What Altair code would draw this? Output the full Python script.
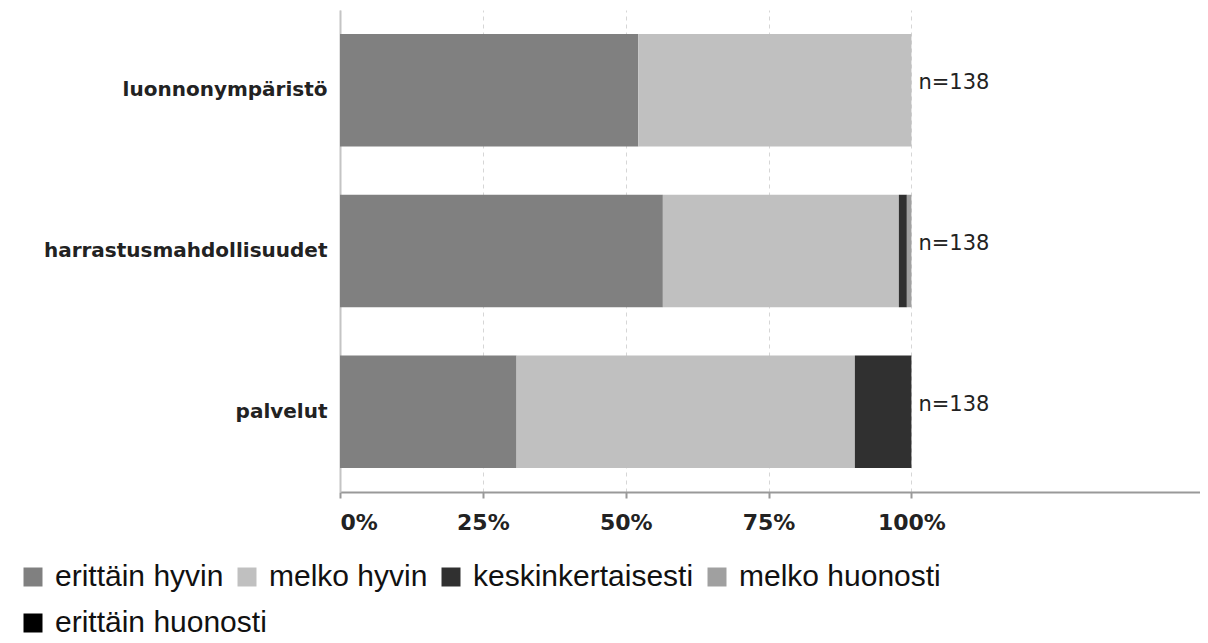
import altair as alt
import pandas as pd

categories = ["luonnonympäristö", "harrastusmahdollisuudet", "palvelut"]
answers = ["erittäin hyvin", "melko hyvin", "keskinkertaisesti", "melko huonosti", "erittäin huonosti"]
colors = ["#808080", "#c0c0c0", "#303030", "#a0a0a0", "#000000"]

# percentages per category, in the order of `answers`
luonnonymparisto = [52.2, 47.8, 0.0, 0.0, 0.0]
harrastus = [56.5, 41.3, 1.4, 0.8, 0.0]
palvelut = [30.9, 59.2, 9.9, 0.0, 0.0]
n_values = [138, 138, 138]

series = [luonnonymparisto, harrastus, palvelut]
rows = []
for cat, vals in zip(categories, series):
    for i, (a, v) in enumerate(zip(answers, vals)):
        rows.append({"kohde": cat, "vastaus": a, "jarj": i, "osuus": v / 100.0})
df = pd.DataFrame(rows)

ndf = pd.DataFrame({"kohde": categories, "label": [f"n={n}" for n in n_values]})

y_enc = alt.Y(
    "kohde:N",
    sort=categories,
    title=None,
    scale=alt.Scale(paddingInner=0.3, paddingOuter=0.15),
    axis=alt.Axis(
        labelFont="DejaVu Sans",
        labelFontWeight="bold",
        labelFontSize=20,
        labelColor="#222222",
        labelPadding=13,
        labelLimit=400,
        ticks=False,
        domainColor="#c4c4c4",
        domainWidth=2,
        grid=False,
    ),
)

x_scale = alt.Scale(domain=[0, 1.505], nice=False, zero=True)

legend_common = dict(
    title=None,
    orient="none",
    direction="horizontal",
    columnPadding=8,
    labelFont="Liberation Sans",
    labelFontSize=30,
    labelColor="#111111",
    labelOffset=7,
    labelLimit=400,
    symbolType="square",
    symbolSize=361,
    symbolStrokeWidth=0,
)

bars = alt.Chart(df).mark_bar().encode(
    x=alt.X(
        "osuus:Q",
        stack="zero",
        scale=x_scale,
        title=None,
        axis=alt.Axis(
            values=[0, 0.25, 0.5, 0.75, 1.0],
            format=".0%",
            labelFont="DejaVu Sans",
            labelFontWeight="bold",
            labelFontSize=22,
            labelColor="#222222",
            labelPadding=14,
            tickSize=6,
            tickColor="#999999",
            tickWidth=2,
            domainColor="#999999",
            domainWidth=2,
            grid=True,
            gridColor="#d6d6d6",
            gridDash=[4, 4],
            gridWidth=1,
        ),
    ),
    y=y_enc,
    color=alt.Color(
        "vastaus:N",
        scale=alt.Scale(domain=answers, range=colors),
        sort=answers,
        legend=alt.Legend(
            values=answers[:4],
            legendX=-322,
            legendY=552,
            **legend_common,
        ),
    ),
    order=alt.Order("jarj:Q", sort="ascending"),
)

# second legend row ("erittäin huonosti"); its bars all have zero width
last_row = alt.Chart(df).transform_filter(
    alt.datum.vastaus == answers[4]
).mark_bar().encode(
    x=alt.X("osuus:Q", stack="zero", scale=x_scale),
    y=alt.Y("kohde:N", sort=categories),
    fill=alt.Fill(
        "vastaus:N",
        scale=alt.Scale(domain=answers[4:], range=colors[4:]),
        legend=alt.Legend(
            legendX=-322,
            legendY=598,
            **legend_common,
        ),
    ),
)

labels = alt.Chart(ndf).mark_text(
    align="left",
    baseline="alphabetic",
    dx=7,
    dy=-1,
    font="DejaVu Sans",
    fontSize=21,
    color="#222222",
).encode(
    x=alt.datum(1.0, scale=x_scale),
    y=alt.Y("kohde:N", sort=categories),
    text="label:N",
)

chart = (
    alt.layer(bars, last_row, labels)
    .properties(
        width=860,
        height=482,
        autosize=alt.AutoSizeParams(type="none"),
        padding={"left": 332, "top": 2, "right": 0, "bottom": 149},
        background="white",
    )
    .configure_view(stroke=None)
)

chart.save("out.html", embed_options={"renderer": "svg", "actions": False})
